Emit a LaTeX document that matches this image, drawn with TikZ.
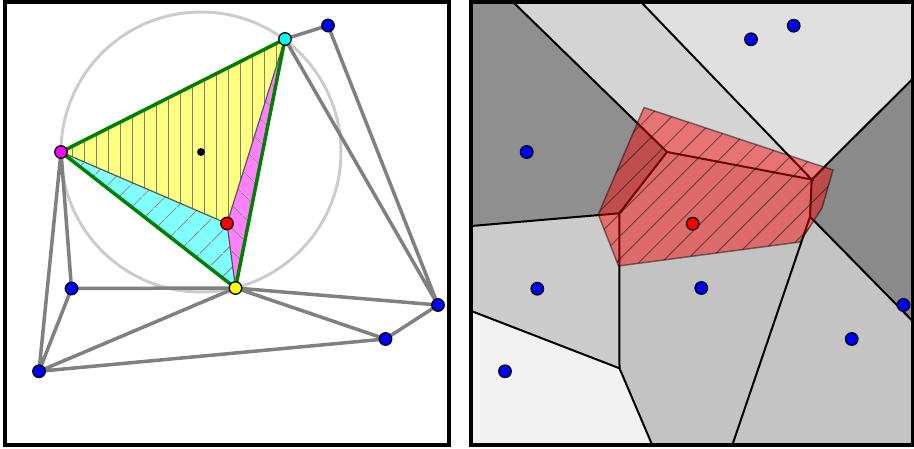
\documentclass[tikz,border=0pt]{standalone}
\usetikzlibrary{patterns.meta}
\definecolor{delgreen}{RGB}{0,128,0}
\definecolor{ptyellow}{RGB}{255,255,0}
\definecolor{ptcyan}{RGB}{0,255,255}
\definecolor{ptmagenta}{RGB}{255,0,255}
\definecolor{ptred}{RGB}{255,0,0}
\definecolor{ptblue}{RGB}{0,0,255}
\tikzset{
	site/.style={circle,draw=black,line width=1.3pt,fill=ptblue,inner sep=0pt,minimum size=12.5pt},
	centre/.style={circle,fill=black,inner sep=0pt,minimum size=8pt},
	ring/.style={draw=black!20,line width=3pt},
	deledge/.style={draw=gray,line width=3.5pt,line cap=round,line join=round},
	spoke/.style={draw=black!65,line width=1.2pt},
	greentri/.style={draw=delgreen,line width=3.5pt,line join=round},
	panelbox/.style={draw=black,line width=4pt},
	celledge/.style={draw=black,line width=2pt},
	vhatch/.style={pattern={Lines[angle=90,distance=12pt,line width=1pt]},pattern color=black!50},
	nehatch/.style={pattern={Lines[angle=45,distance=17pt,line width=1pt]},pattern color=black!50},
	nwhatch/.style={pattern={Lines[angle=-45,distance=17pt,line width=1pt]},pattern color=black!50},
	newcell/.style={fill=ptred,draw=black,line width=1.5pt,opacity=0.45},
	newhatch/.style={pattern={Lines[angle=45,distance=16pt,line width=1pt]},pattern color=black,opacity=0.45}
}
\begin{document}
\begin{tikzpicture}[x=1pt,y=-1pt]
	\useasboundingbox (0,0) rectangle (914,449);
	\coordinate (cc) at (201,152);
	\coordinate (pm) at (61,152);
	\coordinate (pc) at (285,39);
	\coordinate (py) at (235.5,288);
	\coordinate (pr) at (227,223.5);
	\coordinate (b1) at (328,25.5);
	\coordinate (b2) at (71.5,288.5);
	\coordinate (b3) at (438,305);
	\coordinate (b4) at (385.5,339);
	\coordinate (b5) at (39,371.3);

	\draw[ring] (cc) circle[radius=140pt];
	\draw[deledge] (pc)--(b1)--(b3)--(pc) (b3)--(py)--(b4)--(b3)
		(b4)--(b5)--(py)--(b2)--(b5)--(pm)--(b2);

	\fill[ptyellow!50] (pm)--(pc)--(pr)--cycle;
	\fill[vhatch] (pm)--(pc)--(pr)--cycle;
	\fill[ptcyan!50] (pm)--(pr)--(py)--cycle;
	\fill[nehatch] (pm)--(pr)--(py)--cycle;
	\fill[ptmagenta!50] (pr)--(pc)--(py)--cycle;
	\fill[nwhatch] (pr)--(pc)--(py)--cycle;
	\draw[spoke] (pm)--(pr)--(pc) (pr)--(py);
	\draw[greentri] (pm)--(pc)--(py)--cycle;

	\node[centre] (ncc) at (cc) {};
	\node[site,fill=ptmagenta] (nm) at (pm) {};
	\node[site,fill=ptcyan] (nc) at (pc) {};
	\node[site,fill=ptyellow] (ny) at (py) {};
	\node[site,fill=ptred] (nr) at (pr) {};
	\node[site] (n1) at (b1) {};
	\node[site] (n2) at (b2) {};
	\node[site] (n3) at (b3) {};
	\node[site] (n4) at (b4) {};
	\node[site] (n5) at (b5) {};
	\draw[panelbox] (5,2) rectangle (448.5,444.5);

	\coordinate (tl) at (471.3,2);
	\coordinate (tr) at (912.5,2);
	\coordinate (br) at (912.5,444.5);
	\coordinate (bl) at (471.3,444.5);
	\coordinate (t1) at (513,2);
	\coordinate (t2) at (641,2);
	\coordinate (r1) at (912.5,79);
	\coordinate (r2) at (912.5,321);
	\coordinate (d1) at (732.5,444.5);
	\coordinate (d2) at (652,444.5);
	\coordinate (l1) at (471.3,226);
	\coordinate (l2) at (471.3,311);
	\coordinate (v1) at (667,152);
	\coordinate (v2) at (811.7,179.5);
	\coordinate (v3) at (810,216.7);
	\coordinate (v4) at (619.3,213.3);
	\coordinate (v5) at (619.5,368.3);

	\fill[black!44] (tl)--(t1)--(v1)--(v4)--(l1)--cycle;
	\fill[black!17] (t1)--(t2)--(v2)--(v1)--cycle;
	\fill[black!12] (t2)--(tr)--(r1)--(v2)--cycle;
	\fill[black!46] (r1)--(v2)--(v3)--(r2)--cycle;
	\fill[black!23] (r2)--(br)--(d1)--(v3)--cycle;
	\fill[black!23.5] (v1)--(v2)--(v3)--(d1)--(d2)--(v5)--(v4)--cycle;
	\fill[black!20] (l1)--(v4)--(v5)--(l2)--cycle;
	\fill[black!5] (l2)--(v5)--(d2)--(bl)--cycle;
	\draw[celledge] (t1)--(v1)--(v2)--(t2) (v2)--(r1) (v2)--(v3)--(r2) (v3)--(d1)
		(v1)--(v4)--(l1) (v4)--(v5)--(l2) (v5)--(d2);

	\coordinate (q1) at (644,107.5);
	\coordinate (q2) at (833,170);
	\coordinate (q3) at (822,208);
	\coordinate (q4) at (800,242);
	\coordinate (q5) at (618.5,266);
	\coordinate (q6) at (598.3,214.5);
	\filldraw[newcell] (q1)--(q2)--(q3)--(q4)--(q5)--(q6)--cycle;
	\fill[newhatch] (q1)--(q2)--(q3)--(q4)--(q5)--(q6)--cycle;

	\node[site] (s1) at (751,39.3) {};
	\node[site] (s2) at (793.7,25.7) {};
	\node[site] (s3) at (526.7,152) {};
	\node[site] (s4) at (701.3,288) {};
	\node[site] (s5) at (537.3,288.7) {};
	\node[site] (s6) at (903.5,305) {};
	\node[site] (s7) at (851.7,339) {};
	\node[site] (s8) at (505,371.3) {};
	\node[site,fill=ptred] (sr) at (692.7,223.7) {};
	\draw[panelbox] (tl) rectangle (br);
\end{tikzpicture}
\end{document}
